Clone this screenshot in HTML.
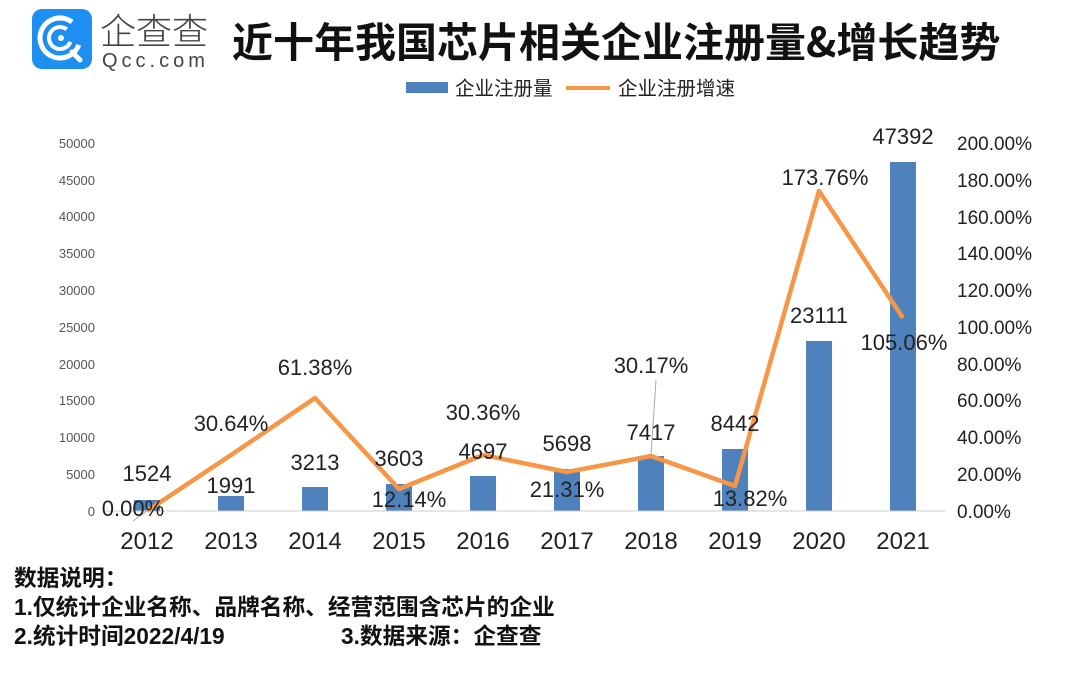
<!DOCTYPE html>
<html><head><meta charset="utf-8"><style>
body{margin:0;width:1080px;height:668px;background:#fff;overflow:hidden;font-family:"Liberation Sans","Noto Sans CJK SC",sans-serif}
</style></head><body>
<svg width="1080" height="668" xmlns="http://www.w3.org/2000/svg" font-family="Liberation Sans, Noto Sans CJK SC, sans-serif">
<rect x="32" y="9" width="60" height="60" rx="10" fill="#1e8ff0"/>
<circle cx="60" cy="38" r="20" fill="none" stroke="#fff" stroke-width="5" stroke-dasharray="100 26" transform="rotate(20 60 38)"/>
<circle cx="60" cy="38" r="11" fill="none" stroke="#fff" stroke-width="4" stroke-dasharray="55 14" transform="rotate(20 60 38)"/>
<circle cx="61" cy="38" r="3" fill="#fff"/>
<line x1="72" y1="52" x2="80" y2="60" stroke="#fff" stroke-width="5" stroke-linecap="round"/>
<text x="100" y="44" font-size="36" fill="#444" font-family="Noto Sans CJK SC, sans-serif" font-weight="300">企查查</text>
<text x="102" y="67" font-size="20" fill="#444" letter-spacing="4">Qcc.com</text>
<text x="232" y="57" font-size="41" font-weight="bold" fill="#111" font-family="Noto Sans CJK SC, sans-serif">近十年我国芯片相关企业注册量&amp;增长趋势</text>
<rect x="406" y="82" width="42" height="11" fill="#4f81bd"/>
<text x="455" y="95" font-size="19.5" fill="#222">企业注册量</text>
<line x1="566" y1="88" x2="610" y2="88" stroke="#f79646" stroke-width="4"/>
<text x="618" y="95" font-size="19.5" fill="#222">企业注册增速</text>
<g font-size="13" fill="#555" text-anchor="end">
<text x="95" y="148">50000</text><text x="95" y="185">45000</text><text x="95" y="221">40000</text><text x="95" y="258">35000</text><text x="95" y="295">30000</text><text x="95" y="332">25000</text><text x="95" y="369">20000</text><text x="95" y="405">15000</text><text x="95" y="442">10000</text><text x="95" y="479">5000</text><text x="95" y="516">0</text>
</g>
<g font-size="19" fill="#222">
<text x="957" y="150">200.00%</text><text x="957" y="187">180.00%</text><text x="957" y="224">160.00%</text><text x="957" y="260">140.00%</text><text x="957" y="297">120.00%</text><text x="957" y="334">100.00%</text><text x="957" y="371">80.00%</text><text x="957" y="407">60.00%</text><text x="957" y="444">40.00%</text><text x="957" y="481">20.00%</text><text x="957" y="518">0.00%</text>
</g>
<g fill="#4f81bd">
<rect x="134" y="500" width="26" height="11"/>
<rect x="218" y="496" width="26" height="15"/>
<rect x="302" y="487" width="26" height="24"/>
<rect x="386" y="484" width="26" height="27"/>
<rect x="470" y="476" width="26" height="35"/>
<rect x="554" y="469" width="26" height="42"/>
<rect x="638" y="456" width="26" height="55"/>
<rect x="722" y="449" width="26" height="62"/>
<rect x="806" y="341" width="26" height="170"/>
<rect x="890" y="162" width="26" height="349"/>
</g>
<line x1="105" y1="511" x2="945" y2="511" stroke="#ccc" stroke-width="1"/>
<line x1="147" y1="511" x2="133" y2="521" stroke="#aaa" stroke-width="1"/>
<line x1="651" y1="455" x2="656" y2="380" stroke="#aaa" stroke-width="1"/>
<polyline fill="none" stroke="#f79646" stroke-width="4.5" stroke-linejoin="round" points="147,511 231,455 315,398 399,489 483,455 567,472 651,456 735,486 819,191 903,318"/>
<g font-size="22" fill="#222" text-anchor="middle">
<text x="147" y="481">1524</text><text x="231" y="493">1991</text><text x="315" y="470">3213</text><text x="399" y="466">3603</text><text x="483" y="459">4697</text><text x="567" y="451">5698</text><text x="651" y="440">7417</text><text x="735" y="431">8442</text><text x="819" y="323">23111</text><text x="903" y="144">47392</text>
<text x="133" y="516">0.00%</text><text x="231" y="431">30.64%</text><text x="315" y="375">61.38%</text><text x="409" y="507">12.14%</text><text x="483" y="420">30.36%</text><text x="567" y="497">21.31%</text><text x="651" y="373">30.17%</text><text x="750" y="506">13.82%</text><text x="825" y="185">173.76%</text><text x="904" y="350">105.06%</text>
</g>
<g font-size="24" fill="#222" text-anchor="middle">
<text x="147" y="549">2012</text><text x="231" y="549">2013</text><text x="315" y="549">2014</text><text x="399" y="549">2015</text><text x="483" y="549">2016</text><text x="567" y="549">2017</text><text x="651" y="549">2018</text><text x="735" y="549">2019</text><text x="819" y="549">2020</text><text x="903" y="549">2021</text>
</g>
<g font-size="22.7" font-weight="bold" fill="#111">
<text x="14" y="586">数据说明：</text>
<text x="14" y="615">1.仅统计企业名称、品牌名称、经营范围含芯片的企业</text>
<text x="14" y="644">2.统计时间2022/4/19</text>
<text x="341" y="644">3.数据来源：企查查</text>
</g>
</svg>
</body></html>
